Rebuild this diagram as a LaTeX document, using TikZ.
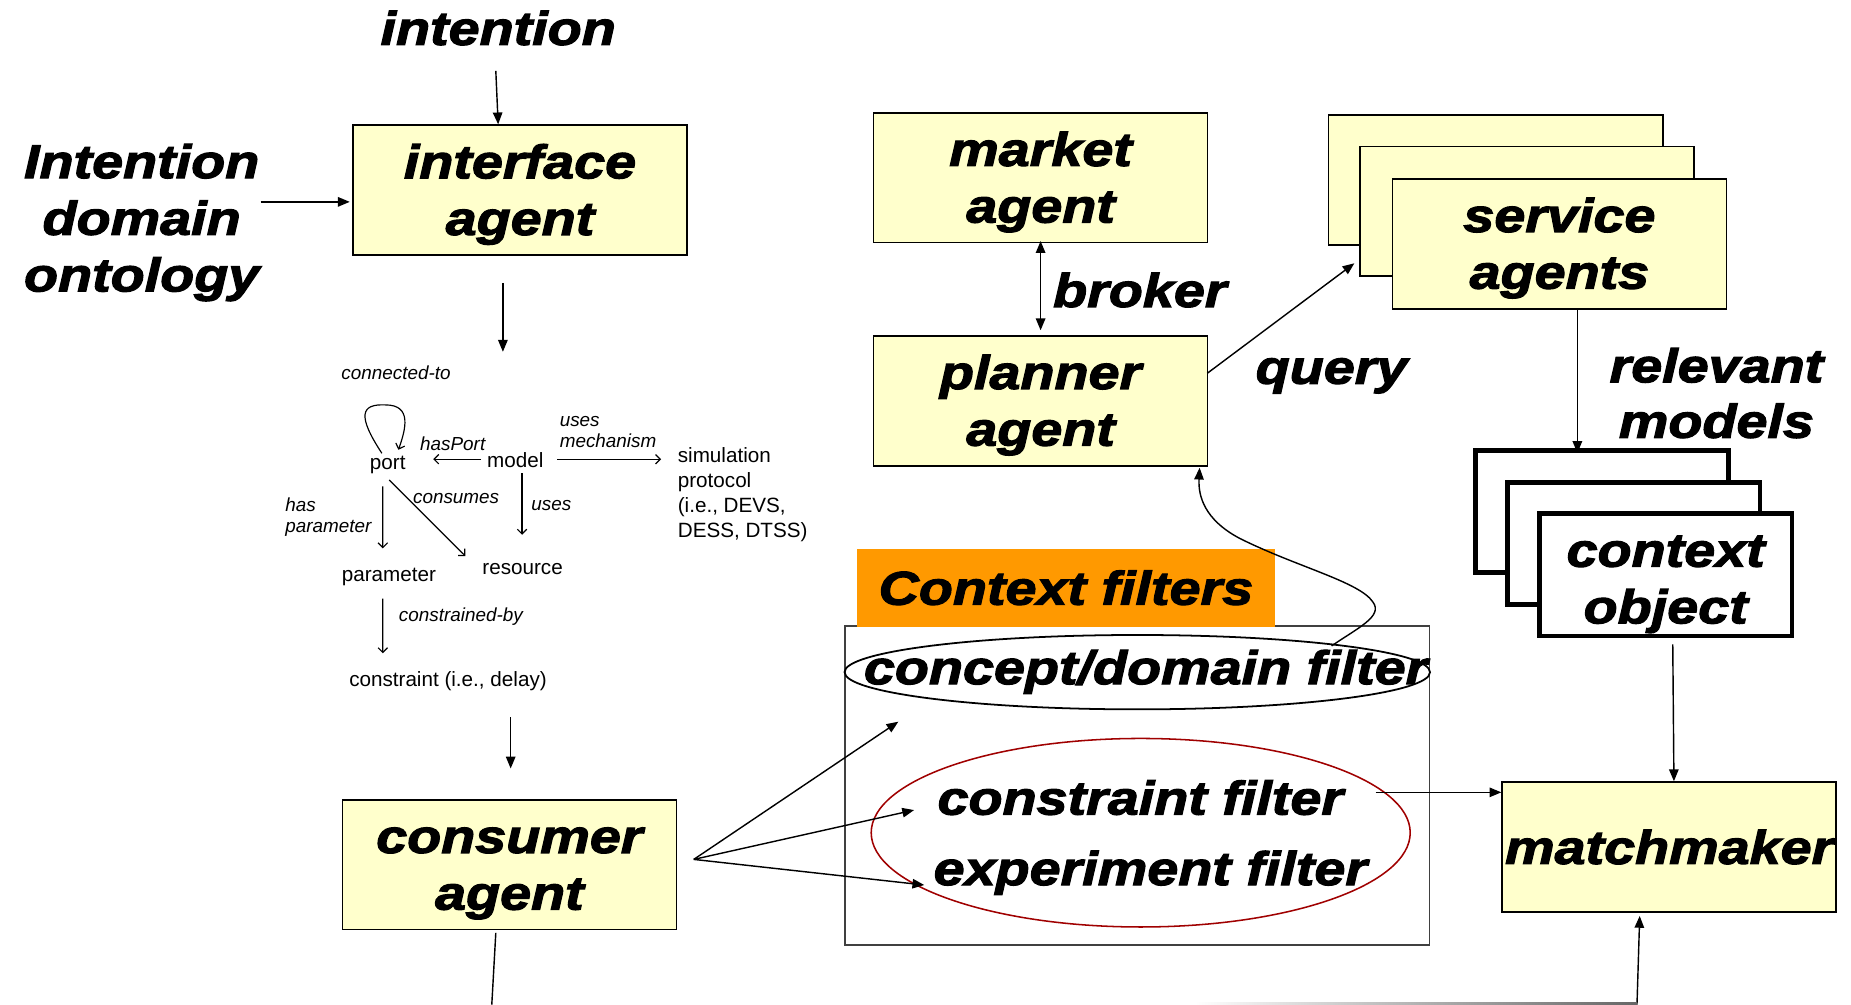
\documentclass[tikz,border=0pt]{standalone}
\usepackage{fontspec}
\setmainfont{Liberation Sans}
\newfontfamily\bigf[FakeStretch=1.18,FakeBold=2.5]{Liberation Sans}
\usetikzlibrary{arrows.meta,calc,shapes.geometric}
\definecolor{yel}{HTML}{FFFFCC}
\definecolor{orng}{HTML}{FF9900}
\definecolor{dred}{HTML}{A00000}
\newcommand\tp{\rule{0pt}{37pt}}
\newcommand\bt{\rule[-9pt]{0pt}{9pt}}
\newcommand\tpc{\rule{0pt}{43pt}}
\tikzset{
  big/.style={font=\bigf\bfseries\itshape\fontsize{40}{48}\selectfont, align=center, inner sep=0pt},
  abox/.style={big, draw=black, line width=1.4pt, fill=yel, minimum width=283, minimum height=110},
  cbox/.style={big, draw=black, line width=4pt, fill=white, minimum width=214, minimum height=103.5},
  small/.style={font=\fontsize{17.5}{21.3}\selectfont, inner sep=0pt, align=left},
  ilab/.style={font=\itshape\fontsize{16}{18.5}\selectfont, inner sep=0pt, align=left},
  arr/.style={line width=1.2pt, -{Triangle[length=10pt,width=8pt]}},
  darr/.style={line width=1.2pt, {Triangle[length=10pt,width=8pt]}-{Triangle[length=10pt,width=8pt]}},
  sarr/.style={line width=1pt, -{Straight Barb[length=4pt,width=8pt]}},
}
\begin{document}
\begin{tikzpicture}[x=1pt,y=-1pt]
\useasboundingbox (0,0) rectangle (1568,851);

% ---- top-left
\node[big, anchor=base] (intention) at (422,38) {intention};
\node[big] (ido) at (120,188.5) {Intention\\domain\\ontology};
\node[abox] (iface) at (440.5,161) {\tp interface\\agent\bt};

\draw[arr] ($(intention.base)+(-2,22)$) -- ($(iface.north)+(-18.5,0)$);
\draw[arr] ($(ido.east)+(1,-17.5)$) -- ($(iface.west)+(-2,10)$);
\coordinate (ontin) at (426,298);
\draw[arr] ($(iface.south)+(-14.5,23)$) -- (ontin);

% ---- ontology diagram
\node[ilab] (connto) at (335.5,316) {connected-to};
\node[small] (port) at (328.5,394) {port};
\node[small] (model) at (436.5,390) {model};
\node[ilab] (hasport) at (383.5,375.5) {hasPort};
\node[ilab, anchor=west] (usesmech) at (474,366) {uses\\mechanism};
\node[small, anchor=west] (sim) at (574,419) {simulation\\protocol\\(i.e., DEVS,\\DESS, DTSS)};
\node[ilab, anchor=west] (haspar) at (241.5,438) {has\\parameter};
\node[ilab] (consumes) at (386.4,422.7) {consumes};
\node[ilab] (uses) at (467,427.8) {uses};
\node[small] (parameter) at (329.4,488.5) {parameter};
\node[small] (resource) at (442.7,482) {resource};
\node[ilab] (constrby) at (390.4,522.4) {constrained-by};
\node[small] (constraint) at (379.5,577.4) {constraint (i.e., delay)};

\draw[sarr] ($(model)+(-29,-1)$) -- ($(port)+(38.5,-5)$);
\draw[sarr] ($(model)+(35.5,-1)$) -- ($(sim.west)+(-14,-30)$);
\draw[sarr] ($(port)+(-4.2,18)$) -- ($(parameter)+(-5.1,-24)$);
\draw[sarr] ($(port)+(1.2,12.6)$) -- ($(resource)+(-48.5,-11)$);
\draw[sarr] ($(model)+(5.7,11)$) -- ($(resource)+(-0.5,-29)$);
\draw[sarr] ($(parameter)+(-5.1,18.5)$) -- ($(constraint)+(-55.2,-24)$);
\draw[sarr] ($(port)+(-5,-10)$) .. controls ($(port)+(-26,-42)$) and ($(port)+(-23,-52)$) .. ($(port)+(-2,-51)$)
  .. controls ($(port)+(21,-51)$) and ($(port)+(15,-30)$) .. ($(port)+(9,-13)$);

\coordinate (consin) at (432.6,651);
\draw[arr] ($(constraint)+(53.1,30)$) -- (consin);

% ---- consumer
\node[abox] (consumer) at (431.5,732.5) {\tp consumer\\agent\bt};
\coordinate (consout) at (416.6,851);
\draw[line width=1.2pt] ($(consumer.south)+(-11.5,2)$) -- (consout);

% ---- market / planner
\node[abox] (market) at (881.5,150.5) {\tp market\\agent\bt};
\node[abox] (planner) at (881.5,339.5) {\tp planner\\agent\bt};
\draw[darr] ($(market.south)+(0,-2)$) -- ($(planner.north)+(0,-4)$);
\node[big, anchor=base] (broker) at (965.6,260) {broker};
\node[big, anchor=base] (query) at (1128,325) {query};

% ---- service agents
\node[abox] (svc1) at (1267,152.5) {};
\node[abox] (svc2) at (1293.5,179) {};
\node[abox] (svc3) at (1321,206.5) {\tp service\\agents\bt};
\draw[arr] ($(planner.east)+(-1,-23.3)$) -- ($(svc2.west)+(-4,44)$);

\node[big, font=\bigf\bfseries\itshape\fontsize{40}{47}\selectfont] (relmod) at (1454,333) {relevant\\models};

% ---- context objects
\node[cbox] (ctx1) at (1357,433.5) {};
\node[cbox] (ctx2) at (1384,460.3) {};
\node[cbox] (ctx3) at (1411,487) {\tpc context\\object\bt};
\draw[arr] ($(svc3.south)+(15.2,0)$) -- ($(ctx1.north)+(-20.8,4)$);

% ---- matchmaker
\node[abox] (mm) at (1414,717.5) {matchmaker};
\draw[arr] ($(ctx3.south)+(6,5)$) -- ($(mm.north)+(4,0)$);
\coordinate (mmin) at (1386.7,851);
\draw[arr] (mmin) -- ($(mm.south)+(-25,2.7)$);
\shade[left color=white, right color=black!60] (1012,849.3) rectangle (1387,851);

% ---- context filters
\node[draw=black!75, line width=1.3pt, fill=white, minimum width=495, minimum height=270, inner sep=0pt] (fbox) at (963.5,665.3) {};
\node[big, fill=orng, minimum width=354, minimum height=65.8] (ctxlab) at (903,497.9) {Context filters};
\node[draw=black, ellipse, line width=1.5pt, minimum width=496, minimum height=63, inner sep=0pt] (concept) at (963.4,569.4) {};
\node[big, anchor=base] (concepttxt) at (970.5,579.5) {concept/domain filter};
\node[draw=dred, ellipse, line width=1.3pt, minimum width=456.6, minimum height=159.7, inner sep=0pt] (red) at (966.3,705.4) {};
\node[big, anchor=base] (cftxt) at (966,690) {constraint filter};
\node[big, anchor=base] (eftxt) at (974.5,749.7) {experiment filter};

\coordinate (fork) at ($(consumer.east)+(14,-4.5)$);
\draw[arr] (fork) -- ($(concept.south)+(-202.4,9.7)$);
\draw[arr] (fork) -- ($(red.west)+(37,-19.2)$);
\draw[arr] (fork) -- ($(red.west)+(45.6,44.3)$);

\draw[arr] ($(red.east)+(-30,-34.2)$) -- ($(mm.west)+(0,-46.3)$);

\draw[arr] ($(concept.north)+(164.6,10)$) .. controls (1150,532) and (1172,522) .. (1163,510)
  .. controls (1152,493) and (1098,480) .. (1050,456)
  .. controls (1020,440) and (1015,420) .. ($(planner.south east)+(-7.5,1)$);
\end{tikzpicture}
\end{document}
